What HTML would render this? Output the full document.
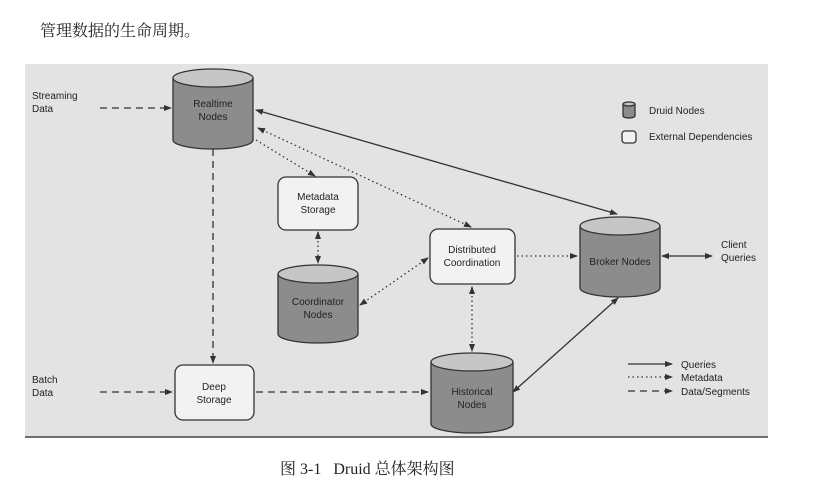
<!DOCTYPE html>
<html><head><meta charset="utf-8"><style>
body{margin:0;width:840px;height:490px;background:#fff;overflow:hidden;position:relative;font-family:"Liberation Sans",sans-serif}
.t{position:absolute;font-family:"Liberation Serif","Noto Serif CJK SC",serif;color:#222}
</style></head><body>
<div class="t" style="left:40px;top:18px;font-size:16px">管理数据的生命周期。</div>
<svg style="position:absolute;left:0;top:0" width="840" height="490" font-family="Liberation Sans, sans-serif" font-size="10" fill="#222">
<defs>
<marker id="a" markerWidth="8" markerHeight="8" refX="7" refY="4" orient="auto-start-reverse" markerUnits="userSpaceOnUse"><path d="M0,1 L8,4 L0,7z" fill="#333"/></marker>
</defs>
<rect x="25" y="64" width="743" height="373" fill="#e3e3e3"/>
<line x1="25" y1="437" x2="768" y2="437" stroke="#444" stroke-width="1.5"/>
<g stroke="#333" stroke-width="1.3" fill="none">
<line x1="256" y1="110" x2="617" y2="214" marker-start="url(#a)" marker-end="url(#a)"/>
<line x1="662" y1="256" x2="712" y2="256" marker-start="url(#a)" marker-end="url(#a)"/>
<line x1="513" y1="392" x2="618" y2="298" marker-start="url(#a)" marker-end="url(#a)"/>
<g stroke-dasharray="1.5,3">
<line x1="258" y1="128" x2="471" y2="227" marker-start="url(#a)" marker-end="url(#a)"/>
<line x1="256" y1="140" x2="315" y2="176" marker-end="url(#a)"/>
<line x1="318" y1="232" x2="318" y2="263" marker-start="url(#a)" marker-end="url(#a)"/>
<line x1="360" y1="305" x2="428" y2="258" marker-start="url(#a)" marker-end="url(#a)"/>
<line x1="517" y1="256" x2="577" y2="256" marker-end="url(#a)"/>
<line x1="472" y1="287" x2="472" y2="351" marker-start="url(#a)" marker-end="url(#a)"/>
<line x1="628" y1="377" x2="672" y2="377" marker-end="url(#a)"/>
</g>
<g stroke-dasharray="7,5">
<line x1="100" y1="108" x2="171" y2="108" marker-end="url(#a)"/>
<line x1="213" y1="149" x2="213" y2="363" marker-end="url(#a)"/>
<line x1="100" y1="392" x2="172" y2="392" marker-end="url(#a)"/>
<line x1="256" y1="392" x2="428" y2="392" marker-end="url(#a)"/>
<line x1="628" y1="391" x2="672" y2="391" marker-end="url(#a)"/>
</g>
<line x1="628" y1="364" x2="672" y2="364" marker-end="url(#a)"/>
</g>
<g stroke="#333" stroke-width="1.3">
<path d="M173,78 V140 A40,9 0 0 0 253,140 V78" fill="#8c8c8c"/><ellipse cx="213" cy="78" rx="40" ry="9" fill="#c6c6c6"/>
<path d="M278,274 V334 A40,9 0 0 0 358,334 V274" fill="#8c8c8c"/><ellipse cx="318" cy="274" rx="40" ry="9" fill="#c6c6c6"/>
<path d="M580,226 V288 A40,9 0 0 0 660,288 V226" fill="#8c8c8c"/><ellipse cx="620" cy="226" rx="40" ry="9" fill="#c6c6c6"/>
<path d="M431,362 V424 A41,9 0 0 0 513,424 V362" fill="#8c8c8c"/><ellipse cx="472" cy="362" rx="41" ry="9" fill="#c6c6c6"/>
<path d="M623,104 V116 A6,2 0 0 0 635,116 V104" fill="#8c8c8c"/><ellipse cx="629" cy="104" rx="6" ry="2" fill="#c6c6c6"/>
<rect x="278" y="177" width="80" height="53" rx="8" fill="#f2f2f2"/>
<rect x="430" y="229" width="85" height="55" rx="8" fill="#f2f2f2"/>
<rect x="175" y="365" width="79" height="55" rx="8" fill="#f2f2f2"/>
<rect x="622" y="131" width="14" height="12" rx="3" fill="#f2f2f2"/>
</g>
<g text-anchor="middle">
<text x="213" y="107">Realtime</text><text x="213" y="120">Nodes</text>
<text x="318" y="200">Metadata</text><text x="318" y="213">Storage</text>
<text x="318" y="305">Coordinator</text><text x="318" y="318">Nodes</text>
<text x="472" y="253">Distributed</text><text x="472" y="266">Coordination</text>
<text x="620" y="265">Broker Nodes</text>
<text x="472" y="395">Historical</text><text x="472" y="408">Nodes</text>
<text x="214" y="390">Deep</text><text x="214" y="403">Storage</text>
</g>
<text x="32" y="99">Streaming</text><text x="32" y="112">Data</text>
<text x="32" y="383">Batch</text><text x="32" y="396">Data</text>
<text x="721" y="248">Client</text><text x="721" y="261">Queries</text>
<text x="649" y="114">Druid Nodes</text>
<text x="649" y="140">External Dependencies</text>
<text x="681" y="368">Queries</text>
<text x="681" y="381">Metadata</text>
<text x="681" y="395">Data/Segments</text>
</svg>
<div class="t" style="left:280px;top:456px;font-size:16px">图 3-1&nbsp;&nbsp;&nbsp;Druid 总体架构图</div>
</body></html>
